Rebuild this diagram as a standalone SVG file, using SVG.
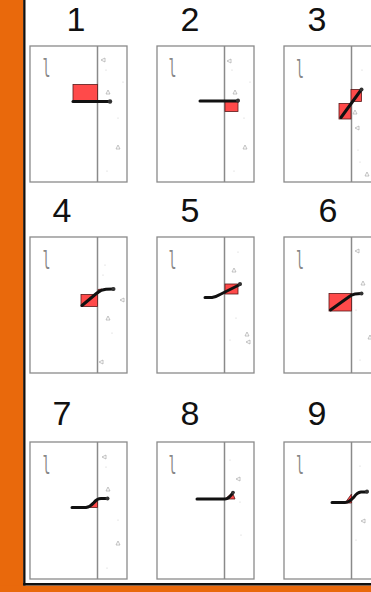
<svg xmlns="http://www.w3.org/2000/svg" width="371" height="592" viewBox="0 0 371 592">
<defs>
<style>
.num{font-family:"Liberation Sans",Arial,sans-serif;font-size:34px;fill:#111;text-anchor:middle}
.frame{fill:#fff;stroke:#8a8a8a;stroke-width:1.3}
.div{stroke:#8a8a8a;stroke-width:1.5}
.tag{font-family:"DejaVu Sans Mono",monospace;font-size:24px;fill:#888}
.red{fill:#ff4a4a;stroke:#5a1a1a;stroke-width:0.8}
.bar{fill:none;stroke:#111;stroke-width:3;stroke-linecap:round;stroke-linejoin:round}
.end{fill:#333}
.tri{fill:none;stroke:#aaa;stroke-width:0.7}
.dot{fill:#ccc}
</style>
<path id="tl" d="M2,-2 L-2,0 L2,2 Z"/>
<path id="tu" d="M-2,2 L0,-2 L2,2 Z"/>
</defs>
<rect x="0" y="0" width="371" height="592" fill="#fff"/>
<rect x="0" y="0" width="23.5" height="592" fill="#e9690c"/>
<rect x="0" y="585.5" width="371" height="6.5" fill="#e9690c"/>
<rect x="23.2" y="0" width="2.3" height="585.5" fill="#111"/>
<rect x="23.2" y="583" width="347.8" height="2.5" fill="#111"/>

<g id="panel1">
<text class="num" x="76" y="30.5">1</text>
<rect class="frame" x="30" y="46" width="97" height="136"/>
<line class="div" x1="97.5" y1="46" x2="97.5" y2="182"/>
<text class="tag" transform="translate(42.5,77) scale(0.55,1)">l</text>
<use href="#tl" class="tri" x="103" y="60"/><use href="#tu" class="tri" x="108" y="92"/><use href="#tu" class="tri" x="118" y="147"/>
<circle class="dot" cx="106" cy="70" r="0.6"/><circle class="dot" cx="123" cy="82" r="0.6"/><circle class="dot" cx="118" cy="118" r="0.6"/><circle class="dot" cx="107" cy="171" r="0.6"/>
<rect class="red" x="73" y="84.5" width="24.5" height="16.5"/>
<path class="bar" d="M73,101.5 H110"/>
<circle class="end" cx="110" cy="101.5" r="2.2"/>
</g>

<g id="panel2">
<text class="num" x="190" y="30.5">2</text>
<rect class="frame" x="157" y="46" width="97" height="136"/>
<line class="div" x1="224.5" y1="46" x2="224.5" y2="182"/>
<text class="tag" transform="translate(168.5,77) scale(0.55,1)">l</text>
<use href="#tl" class="tri" x="229" y="61"/><use href="#tu" class="tri" x="235" y="92"/><use href="#tu" class="tri" x="245" y="147"/>
<circle class="dot" cx="232" cy="70" r="0.6"/><circle class="dot" cx="250" cy="82" r="0.6"/><circle class="dot" cx="244" cy="118" r="0.6"/><circle class="dot" cx="234" cy="171" r="0.6"/>
<rect class="red" x="225" y="101.5" width="13" height="10"/>
<path class="bar" d="M200,101 H238"/>
<circle class="end" cx="238" cy="100.5" r="2"/>
</g>

<g id="panel3">
<text class="num" x="317" y="30.5">3</text>
<rect class="frame" x="284" y="46" width="97" height="136"/>
<line class="div" x1="351.5" y1="46" x2="351.5" y2="182"/>
<text class="tag" transform="translate(296,78) scale(0.55,1)">l</text>
<use href="#tu" class="tri" x="355" y="112"/><use href="#tl" class="tri" x="357" y="128"/><use href="#tu" class="tri" x="367" y="174"/>
<circle class="dot" cx="362" cy="70" r="0.6"/><circle class="dot" cx="358" cy="150" r="0.6"/><circle class="dot" cx="360" cy="162" r="0.6"/>
<rect class="red" x="351" y="89.5" width="10.5" height="12"/>
<rect class="red" x="339" y="103.5" width="12" height="15.5"/>
<path class="bar" d="M341,117.5 L361,90"/>
<circle class="end" cx="361.5" cy="89.5" r="2"/>
</g>

<g id="panel4">
<text class="num" x="62" y="222">4</text>
<rect class="frame" x="30" y="237" width="97" height="136"/>
<line class="div" x1="97.5" y1="237" x2="97.5" y2="373"/>
<text class="tag" transform="translate(42.5,269) scale(0.55,1)">l</text>
<use href="#tl" class="tri" x="122" y="300"/><use href="#tu" class="tri" x="108" y="318"/><use href="#tl" class="tri" x="101" y="362"/>
<circle class="dot" cx="105" cy="265" r="0.6"/><circle class="dot" cx="112" cy="333" r="0.6"/><circle class="dot" cx="103" cy="275" r="0.6"/>
<rect class="red" x="81" y="294.5" width="16.5" height="12"/>
<path class="red" d="M98,289.5 L102,289 L98,293.5 Z" stroke="none"/>
<path class="bar" d="M82,305.5 L97,293 Q101,289.5 106,289.2 L113,289"/>
<circle class="end" cx="113.5" cy="289" r="2"/>
</g>

<g id="panel5">
<text class="num" x="190" y="222">5</text>
<rect class="frame" x="157" y="237" width="97" height="136"/>
<line class="div" x1="224.5" y1="237" x2="224.5" y2="373"/>
<text class="tag" transform="translate(168.5,269) scale(0.55,1)">l</text>
<use href="#tu" class="tri" x="234" y="270"/><use href="#tu" class="tri" x="247" y="334"/><use href="#tl" class="tri" x="248" y="342"/>
<circle class="dot" cx="238" cy="252" r="0.6"/><circle class="dot" cx="230" cy="340" r="0.6"/><circle class="dot" cx="236" cy="318" r="0.6"/>
<rect class="red" x="225" y="284" width="13" height="10"/>
<path class="bar" d="M205,297.5 H212 Q216,297 220,294.5 L240,284.5"/>
<circle class="end" cx="240" cy="284" r="2"/>
</g>

<g id="panel6">
<text class="num" x="328" y="222">6</text>
<rect class="frame" x="284" y="237" width="97" height="136"/>
<line class="div" x1="351.5" y1="237" x2="351.5" y2="373"/>
<text class="tag" transform="translate(296,269) scale(0.55,1)">l</text>
<use href="#tl" class="tri" x="357" y="251"/><use href="#tu" class="tri" x="363" y="283"/><use href="#tu" class="tri" x="370" y="337"/>
<circle class="dot" cx="356" cy="310" r="0.6"/><circle class="dot" cx="360" cy="360" r="0.6"/>
<rect class="red" x="329" y="293.5" width="22.5" height="17.5"/>
<path class="bar" d="M330.5,310 L348,297.5 Q351.5,294.5 355,294 L361,293.5"/>
<circle class="end" cx="361.5" cy="293.5" r="2"/>
</g>

<g id="panel7">
<text class="num" x="62" y="425">7</text>
<rect class="frame" x="30" y="442" width="97" height="137"/>
<line class="div" x1="97.5" y1="442" x2="97.5" y2="579"/>
<text class="tag" transform="translate(42.5,474) scale(0.55,1)">l</text>
<use href="#tl" class="tri" x="104" y="457"/><use href="#tu" class="tri" x="108" y="489"/><use href="#tu" class="tri" x="118" y="543"/>
<circle class="dot" cx="106" cy="467" r="0.6"/><circle class="dot" cx="118" cy="520" r="0.6"/><circle class="dot" cx="107" cy="568" r="0.6"/>
<path class="red" d="M88,507.5 L97.5,507.5 L97.5,501 Z" stroke="none"/>
<path class="bar" d="M72,507.5 H86 Q90,507 94,502.5 Q97,498.5 101,498.5 H107"/>
<circle class="end" cx="107.5" cy="498.5" r="2"/>
</g>

<g id="panel8">
<text class="num" x="190" y="425">8</text>
<rect class="frame" x="157" y="442" width="97" height="137"/>
<line class="div" x1="224.5" y1="442" x2="224.5" y2="579"/>
<text class="tag" transform="translate(168.5,474) scale(0.55,1)">l</text>
<use href="#tl" class="tri" x="238" y="479"/>
<circle class="dot" cx="230" cy="460" r="0.6"/><circle class="dot" cx="240" cy="502" r="0.6"/><circle class="dot" cx="241" cy="535" r="0.6"/>
<path class="red" d="M225,499 L235,499 L232.5,492.5 Z" stroke="none"/>
<path class="bar" d="M197,499 H225 Q229,499 233,492.5"/>
<circle class="end" cx="233" cy="492.5" r="1.8"/>
</g>

<g id="panel9">
<text class="num" x="317" y="425">9</text>
<rect class="frame" x="284" y="442" width="97" height="137"/>
<line class="div" x1="351.5" y1="442" x2="351.5" y2="579"/>
<text class="tag" transform="translate(296,474) scale(0.55,1)">l</text>
<use href="#tl" class="tri" x="363" y="521"/>
<circle class="dot" cx="360" cy="466" r="0.6"/><circle class="dot" cx="356" cy="540" r="0.6"/>
<path class="red" d="M345,503 L351.5,503 L351.5,494 Z" stroke="none"/>
<path class="bar" d="M332,502.5 H345 Q349,502.5 354,497 Q357,492.5 361,492 H367"/>
<circle class="end" cx="367" cy="491.5" r="2"/>
</g>
</svg>
